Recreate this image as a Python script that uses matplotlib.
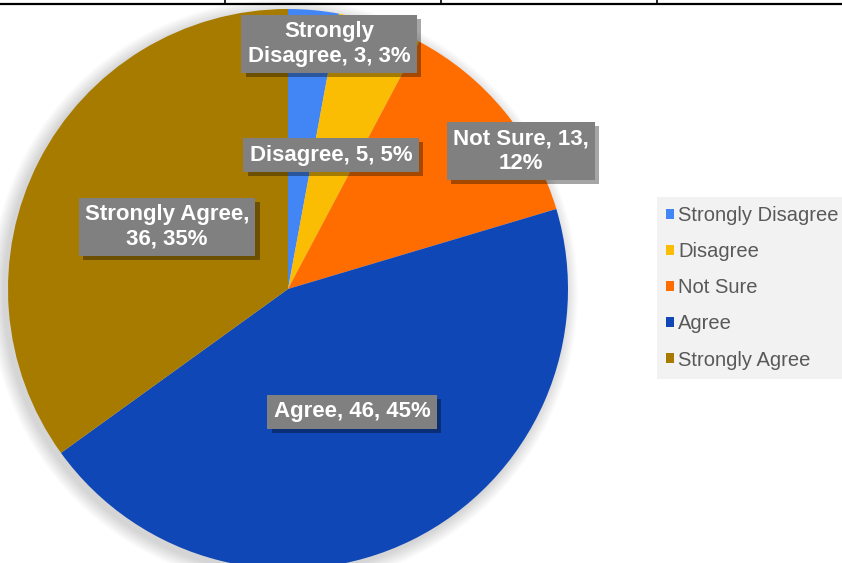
import matplotlib
matplotlib.use("Agg")
import matplotlib.pyplot as plt
from matplotlib.patches import Circle, Patch
import matplotlib.patheffects as pe

categories = ["Strongly Disagree", "Disagree", "Not Sure", "Agree", "Strongly Agree"]
counts = [3, 5, 13, 46, 36]
percent_labels = ["3%", "5%", "12%", "45%", "35%"]
colors = ["#4285F4", "#FBBC04", "#FF6D01", "#0F47B6", "#A67B00"]

W, H = 842, 563
fig = plt.figure(figsize=(W / 100, H / 100), dpi=100)
ax = fig.add_axes([0, 0, 1, 1])

cx, cy, R = 288, H - 289, 280

# soft shadow
for i in range(14):
    ax.add_patch(Circle((cx - 4, cy - 4), R + 14 - i, facecolor="#000000",
                        alpha=0.011, edgecolor="none", zorder=1))

wedges, _ = ax.pie(counts, colors=colors, startangle=90, counterclock=False,
                   center=(cx, cy), radius=R, frame=True,
                   wedgeprops=dict(linewidth=0, zorder=2))
ax.set_xlim(0, W)
ax.set_ylim(0, H)
ax.set_aspect("equal")
ax.axis("off")

# table lines at top
ax.plot([0, W], [H - 3.5, H - 3.5], color="black", lw=1.6, solid_capstyle="butt")
for xv in [225, 441, 657]:
    ax.plot([xv, xv], [H - 3.5, H], color="black", lw=1.2)

label_texts = [
    f"Strongly\nDisagree, {counts[0]}, {percent_labels[0]}",
    f"Disagree, {counts[1]}, {percent_labels[1]}",
    f"Not Sure, {counts[2]},\n{percent_labels[2]}",
    f"Agree, {counts[3]}, {percent_labels[3]}",
    f"Strongly Agree,\n{counts[4]}, {percent_labels[4]}",
]
label_pos = [(329, 44), (331, 155), (521, 151), (352, 412), (167, 227)]

for txt, (px, py) in zip(label_texts, label_pos):
    t = ax.text(px, H - py, txt, ha="center", va="center", fontsize=16,
                fontweight="bold", family="Liberation Sans", color="white",
                linespacing=1.25,
                bbox=dict(boxstyle="square,pad=0.28", facecolor="#808080",
                          edgecolor="none"), zorder=5)
    t.get_bbox_patch().set_path_effects([
        pe.SimplePatchShadow(offset=(3, -3), shadow_rgbFace="black", alpha=0.35),
        pe.Normal()])

handles = [Patch(facecolor=c, edgecolor="none") for c in colors]
leg = fig.legend(handles, categories, loc="upper left",
                 bbox_to_anchor=(657 / W, 1 - 197 / H),
                 frameon=True, facecolor="#F2F2F2", edgecolor="none",
                 fancybox=False, framealpha=1,
                 prop=dict(family="Liberation Sans", size=14.5),
                 handlelength=0.4, handleheight=0.4, handletextpad=0.2,
                 labelspacing=0.85, borderpad=0.45, borderaxespad=0)
for t in leg.get_texts():
    t.set_color("#595959")

fig.savefig("out.png", dpi=100)
